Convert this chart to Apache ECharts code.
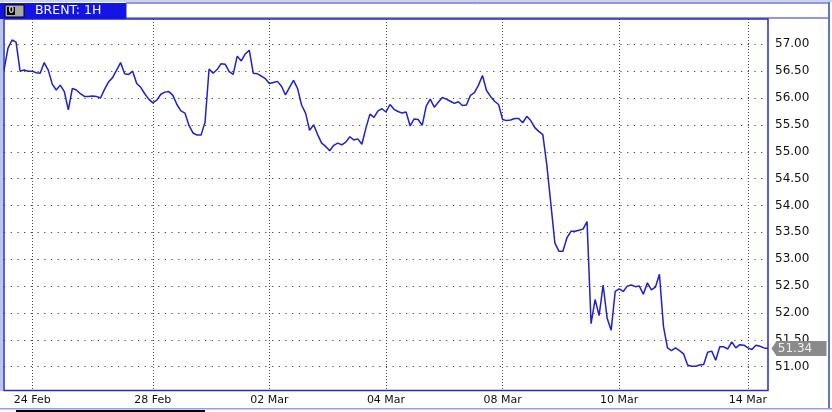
<!DOCTYPE html>
<html>
<head>
<meta charset="utf-8">
<script src="https://cdn.jsdelivr.net/npm/echarts@6/dist/echarts.min.js"></script>
<style>
html,body{margin:0;padding:0;background:#fff;}
#c{width:832px;height:412px;}
</style>
</head>
<body>
<div id="c"></div>
<script>
// Brent hourly closes
const prices = [
 56.52,56.93,57.08,57.04,56.50,56.52,56.50,56.50,56.47,56.46,
 56.66,56.52,56.26,56.15,56.24,56.12,55.78,56.18,56.15,56.08,
 56.03,56.03,56.04,56.03,56.00,56.16,56.30,56.38,56.52,56.66,
 56.45,56.44,56.50,56.27,56.20,56.08,55.98,55.91,55.96,56.07,
 56.11,56.12,56.05,55.88,55.76,55.72,55.49,55.35,55.31,55.31,
 55.55,56.54,56.46,56.53,56.64,56.63,56.49,56.44,56.78,56.69,
 56.82,56.89,56.46,56.45,56.41,56.36,56.27,56.29,56.31,56.22,
 56.06,56.20,56.33,56.18,55.87,55.72,55.40,55.50,55.32,55.16,
 55.10,55.02,55.12,55.16,55.13,55.18,55.28,55.22,55.24,55.14,
 55.44,55.70,55.64,55.76,55.80,55.74,55.88,55.79,55.75,55.72,
 55.74,55.48,55.61,55.60,55.49,55.85,55.98,55.83,55.92,56.01,
 55.98,55.94,55.90,55.93,55.86,55.87,56.05,56.10,56.24,56.42,
 56.14,56.03,55.94,55.88,55.60,55.58,55.59,55.62,55.62,55.54,
 55.66,55.58,55.45,55.38,55.32,54.75,54.03,53.30,53.15,53.15,
 53.40,53.52,53.52,53.54,53.56,53.70,51.80,52.25,51.95,52.52,
 51.90,51.68,52.40,52.45,52.40,52.50,52.52,52.49,52.50,52.35,
 52.56,52.43,52.48,52.72,51.75,51.35,51.30,51.35,51.30,51.24,
 51.03,51.01,51.01,51.03,51.04,51.27,51.29,51.12,51.37,51.37,
 51.33,51.46,51.35,51.41,51.40,51.35,51.32,51.40,51.38,51.35,
 51.34
];
const tickLabels = ['24 Feb','28 Feb','02 Mar','04 Mar','08 Mar','10 Mar','14 Mar'];
const tickIndex  = [7, 37, 66, 95, 124, 153, 185];
const yTicks = [51.0, 51.5, 52.0, 52.5, 53.0, 53.5, 54.0, 54.5, 55.0, 55.5, 56.0, 56.5, 57.0];
const lastPrice = prices[prices.length - 1];
const title = 'BRENT: 1H';

const categories = prices.map((_, i) => {
  const k = tickIndex.indexOf(i);
  return k >= 0 ? tickLabels[k] : '';
});
const showTick = (idx) => tickIndex.indexOf(idx) >= 0;

const FONT = '"DejaVu Sans", Verdana, sans-serif';
const chart = echarts.init(document.getElementById('c'), null, {renderer: 'canvas'});
chart.setOption({
  animation: false,
  backgroundColor: '#ffffff',
  grid: {left: 4, right: 64, top: 19, bottom: 21.5, show: true, borderColor: '#2b2bb8', borderWidth: 1.5, backgroundColor: '#fff'},
  xAxis: {
    type: 'category',
    data: categories,
    boundaryGap: false,
    axisLine: {show: false},
    axisTick: {show: false},
    axisLabel: {interval: (i) => showTick(i), color: '#111', fontFamily: FONT, fontSize: 11, margin: 4},
    splitLine: {show: true, interval: (i) => showTick(i), lineStyle: {color: '#4a4a4a', width: 1, type: [1, 2]}}
  },
  yAxis: {
    type: 'value',
    position: 'right',
    min: 50.557,
    max: 57.471,
    axisLine: {show: false},
    axisTick: {show: false, customValues: yTicks},
    axisLabel: {customValues: yTicks, formatter: (v) => v.toFixed(2), color: '#111', fontFamily: FONT, fontSize: 12, margin: 7},
    splitLine: {show: true, lineStyle: {color: '#444', width: 1.2, type: [1.2, 5.5]}}
  },
  series: [{
    type: 'line',
    data: prices,
    clip: false,
    showSymbol: false,
    symbol: 'none',
    lineStyle: {color: '#2020cc', width: 1.5},
    markPoint: {
      symbol: 'path://M0,5 L5,0 L54,0 L54,10 L5,10 Z',
      symbolSize: [55, 15],
      symbolKeepAspect: false,
      symbolOffset: [31, 0],
      itemStyle: {color: '#8a8a8a'},
      label: {show: true, formatter: () => lastPrice.toFixed(2), color: '#f0f0f0', fontFamily: FONT, fontSize: 12, offset: [-4, 0]},
      data: [{coord: [prices.length - 1, lastPrice], value: lastPrice}]
    }
  }],
  graphic: [
    {type: 'rect', shape: {x: 0, y: 0, width: 832, height: 2}, style: {fill: '#c8d4ec'}, silent: true},
    {type: 'rect', shape: {x: 126, y: 3, width: 703, height: 15}, style: {fill: '#fff', stroke: '#2b2bd0', lineWidth: 1}, silent: true},
    {type: 'rect', shape: {x: 0, y: 3, width: 126, height: 16}, style: {fill: '#1414e6'}, silent: true},
    {type: 'rect', shape: {x: 5, y: 5, width: 19, height: 12}, style: {fill: '#a8a8a8', stroke: '#000', lineWidth: 1}, silent: true},
    {type: 'rect', shape: {x: 7, y: 7, width: 8, height: 8}, style: {fill: '#000'}, silent: true},
    {type: 'text', x: 8.5, y: 6.5, style: {text: '0', fill: '#ccc', font: 'bold 8px ' + FONT}, silent: true},
    {type: 'text', x: 35, y: 4, style: {text: title, fill: '#fff', font: '12.5px ' + FONT}, silent: true},
    {type: 'rect', shape: {x: 828, y: 2, width: 2, height: 406}, style: {fill: '#5a78c8'}, silent: true},
    {type: 'rect', shape: {x: 0, y: 19, width: 3, height: 372}, style: {fill: '#b8c8ec'}, silent: true},
    {type: 'rect', shape: {x: 0, y: 408, width: 832, height: 1.5}, style: {fill: '#8aa4dc'}, silent: true},
    {type: 'rect', shape: {x: 16, y: 410, width: 189, height: 2}, style: {fill: '#000'}, silent: true}
  ]
});
</script>
</body>
</html>
